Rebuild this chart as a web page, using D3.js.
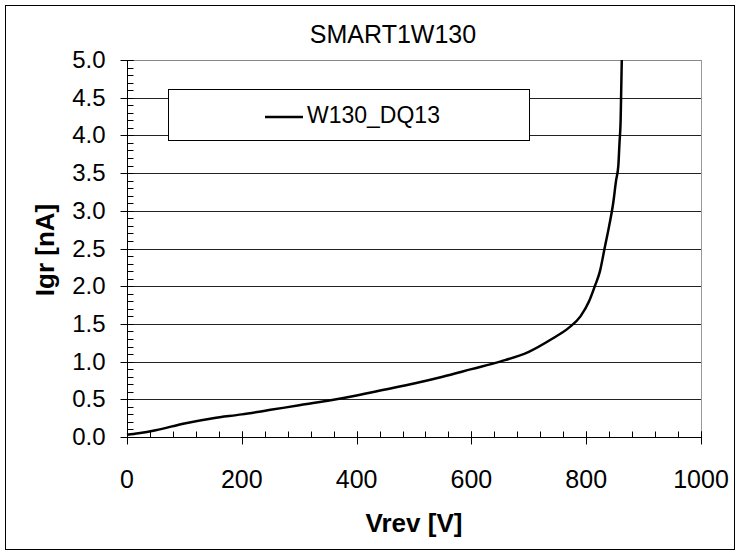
<!DOCTYPE html>
<html>
<head>
<meta charset="utf-8">
<script src="https://cdn.jsdelivr.net/npm/d3@7"></script>
<style>
  body { margin: 0; background: #fff; }
  text { font-family: "Liberation Sans", Arial, sans-serif; }
</style>
</head>
<body>
<div id="chart"></div>
<script>
var vrev = [0, 20, 50, 100, 150, 200, 250, 300, 350, 400, 450, 500, 550, 600, 650, 700, 740, 770, 790, 805, 815, 824, 832, 840, 847, 852, 856, 858, 860, 861, 862];
var igr  = [0.03, 0.05, 0.09, 0.18, 0.25, 0.3, 0.36, 0.42, 0.48, 0.55, 0.63, 0.71, 0.8, 0.9, 1.0, 1.13, 1.3, 1.45, 1.6, 1.8, 2.0, 2.2, 2.5, 2.8, 3.1, 3.4, 3.6, 3.9, 4.2, 4.6, 5.0];
var xTicks = [0, 200, 400, 600, 800, 1000];
var yTicks = [0, 0.5, 1, 1.5, 2, 2.5, 3, 3.5, 4, 4.5, 5];
var seriesName = "W130_DQ13";

var width = 740, height = 556;
var plotL = 127, plotR = 701, plotT = 60, plotB = 437;

var svg = d3.select("#chart").append("svg")
    .attr("width", width)
    .attr("height", height);

svg.append("rect")
    .attr("x", 5.5).attr("y", 5.5)
    .attr("width", 729).attr("height", 544)
    .attr("fill", "#fff").attr("stroke", "#000");

var x = d3.scaleLinear().domain([0, 1000]).range([plotL, plotR]);
var y = d3.scaleLinear().domain([0, 5]).range([plotB, plotT]);

// gridlines
svg.append("g").selectAll("line")
    .data(yTicks.slice(1))
    .enter().append("line")
    .attr("x1", plotL).attr("x2", plotR)
    .attr("y1", d => Math.round(y(d)) + 0.5)
    .attr("y2", d => Math.round(y(d)) + 0.5)
    .attr("stroke", d => d == 5 ? "#888" : "#222");

// right border
svg.append("line")
    .attr("x1", plotR + 0.5).attr("x2", plotR + 0.5)
    .attr("y1", plotT).attr("y2", plotB)
    .attr("stroke", "#999");

// x axis: major ticks crossing, minor ticks inside
var xAxis = svg.append("g").attr("transform", "translate(0," + (plotB + 0.5) + ")");
xAxis.append("line").attr("x1", plotL).attr("x2", plotR).attr("stroke", "#000");
xAxis.selectAll(".minor")
    .data(d3.range(0, 1001, 40))
    .enter().append("line")
    .attr("x1", d => Math.round(x(d)) + 0.5).attr("x2", d => Math.round(x(d)) + 0.5)
    .attr("y1", -6).attr("y2", 0)
    .attr("stroke", "#000");
xAxis.selectAll(".major")
    .data(xTicks)
    .enter().append("line")
    .attr("x1", d => Math.round(x(d)) + 0.5).attr("x2", d => Math.round(x(d)) + 0.5)
    .attr("y1", -6).attr("y2", 7)
    .attr("stroke", "#000");
xAxis.selectAll("text")
    .data(xTicks)
    .enter().append("text")
    .attr("x", d => x(d))
    .attr("y", 50)
    .attr("text-anchor", "middle")
    .attr("font-size", 25)
    .text(d => d);

// y axis
var yAxis = svg.append("g").attr("transform", "translate(" + (plotL + 0.5) + ",0)");
yAxis.append("line").attr("y1", plotT).attr("y2", plotB).attr("stroke", "#000");
yAxis.selectAll(".minor")
    .data(d3.range(0, 51).map(d => d / 10))
    .enter().append("line")
    .attr("y1", d => Math.round(y(d)) + 0.5).attr("y2", d => Math.round(y(d)) + 0.5)
    .attr("x1", 0).attr("x2", 6)
    .attr("stroke", "#000");
yAxis.selectAll(".major")
    .data(yTicks)
    .enter().append("line")
    .attr("y1", d => Math.round(y(d)) + 0.5).attr("y2", d => Math.round(y(d)) + 0.5)
    .attr("x1", -7).attr("x2", 6)
    .attr("stroke", "#000");
yAxis.selectAll("text")
    .data(yTicks)
    .enter().append("text")
    .attr("x", -22)
    .attr("y", d => y(d) + 8)
    .attr("text-anchor", "end")
    .attr("font-size", 24)
    .text(d => d.toFixed(1));

// legend
var lg = svg.append("g");
lg.append("rect")
    .attr("x", 168.5).attr("y", 89.5)
    .attr("width", 361).attr("height", 51)
    .attr("fill", "#fff").attr("stroke", "#000");
lg.append("line")
    .attr("x1", 265).attr("x2", 303)
    .attr("y1", 117).attr("y2", 117)
    .attr("stroke", "#000").attr("stroke-width", 2.5);
lg.append("text")
    .attr("x", 307).attr("y", 123)
    .attr("font-size", 23)
    .text(seriesName);

// curve
var pts = vrev.map((v, i) => [v, igr[i]]);
svg.append("path")
    .datum(pts)
    .attr("fill", "none")
    .attr("stroke", "#000")
    .attr("stroke-width", 2.5)
    .attr("d", d3.line().x(d => x(d[0])).y(d => y(d[1])).curve(d3.curveMonotoneX));

// titles
svg.append("text")
    .attr("x", 393).attr("y", 43)
    .attr("text-anchor", "middle")
    .attr("font-size", 25)
    .text("SMART1W130");
svg.append("text")
    .attr("x", 414).attr("y", 532)
    .attr("text-anchor", "middle")
    .attr("font-size", 26).attr("font-weight", "bold")
    .text("Vrev [V]");
svg.append("text")
    .attr("transform", "translate(54,250) rotate(-90)")
    .attr("text-anchor", "middle")
    .attr("font-size", 26).attr("font-weight", "bold")
    .text("Igr [nA]");
</script>
</body>
</html>
